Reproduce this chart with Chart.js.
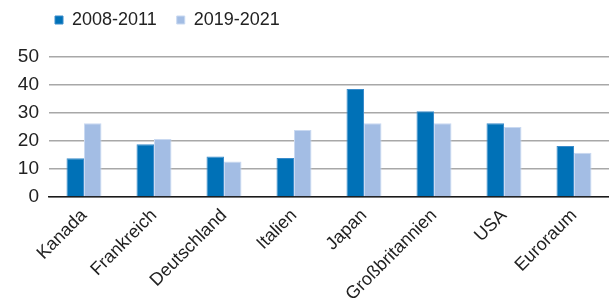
<!DOCTYPE html>
<html>
<head>
<meta charset="utf-8">
<script src="https://cdn.jsdelivr.net/npm/chart.js@4/dist/chart.umd.min.js"></script>
<style>
html,body{margin:0;padding:0;background:#fff;}
#wrap{position:relative;width:609px;height:301px;}
</style>
</head>
<body>
<div id="wrap"><canvas id="c" width="609" height="301"></canvas></div>
<script>
const categories = ["Kanada", "Frankreich", "Deutschland", "Italien", "Japan", "Großbritannien", "USA", "Euroraum"];
const series2008 = [13.8, 18.8, 14.5, 13.9, 38.6, 30.6, 26.3, 18.2];
const series2019 = [26.3, 20.7, 12.7, 23.9, 26.3, 26.3, 25.0, 15.8];
const seriesNames = ["2008-2011", "2019-2021"];
const yTicks = [0, 10, 20, 30, 40, 50];

const legendShift = {
  id: 'legendShift',
  afterLayout(chart) {
    const lg = chart.legend;
    if (lg) { lg.left += 35; lg.right += 35; lg.top -= 18; lg.bottom -= 18; }
  }
};

new Chart(document.getElementById('c'), {
  type: 'bar',
  data: {
    labels: categories,
    datasets: [
      { label: seriesNames[0], data: series2008, backgroundColor: '#0071b7', borderColor: '#3b8ccb', borderWidth: 1, borderSkipped: 'bottom' },
      { label: seriesNames[1], data: series2019, backgroundColor: '#a3bde4', borderColor: '#c9d9f1', borderWidth: 1, borderSkipped: 'bottom' }
    ]
  },
  options: {
    responsive: false,
    animation: false,
    layout: { padding: { top: 9, left: 0, right: 0, bottom: 0 } },
    datasets: { bar: { categoryPercentage: 0.5, barPercentage: 1.0 } },
    plugins: {
      legend: {
        position: 'top',
        align: 'start',
        labels: {
          boxWidth: 8, boxHeight: 8, padding: 20,
          color: '#222',
          font: { family: '"Liberation Sans", Arial, sans-serif', size: 18 }
        }
      },
      tooltip: { enabled: false }
    },
    scales: {
      x: {
        afterFit(axis) { axis.height = 104; },
        grid: { display: false, drawTicks: false },
        border: { display: true, color: '#1a1a1a', width: 1.5 },
        ticks: {
          color: '#222', maxRotation: 45, minRotation: 45, padding: 8,
          font: { family: '"Liberation Sans", Arial, sans-serif', size: 18 }
        }
      },
      y: {
        min: 0, max: 50,
        afterBuildTicks(axis) { axis.ticks = yTicks.map(v => ({ value: v })); },
        afterFit(axis) { axis.width = 49; },
        grid: { color: '#a8a8a8', lineWidth: 1.5, drawTicks: false },
        border: { display: false },
        ticks: {
          color: '#222', padding: 10,
          font: { family: '"Liberation Sans", Arial, sans-serif', size: 19 }
        }
      }
    }
  },
  plugins: [legendShift]
});
</script>
</body>
</html>
